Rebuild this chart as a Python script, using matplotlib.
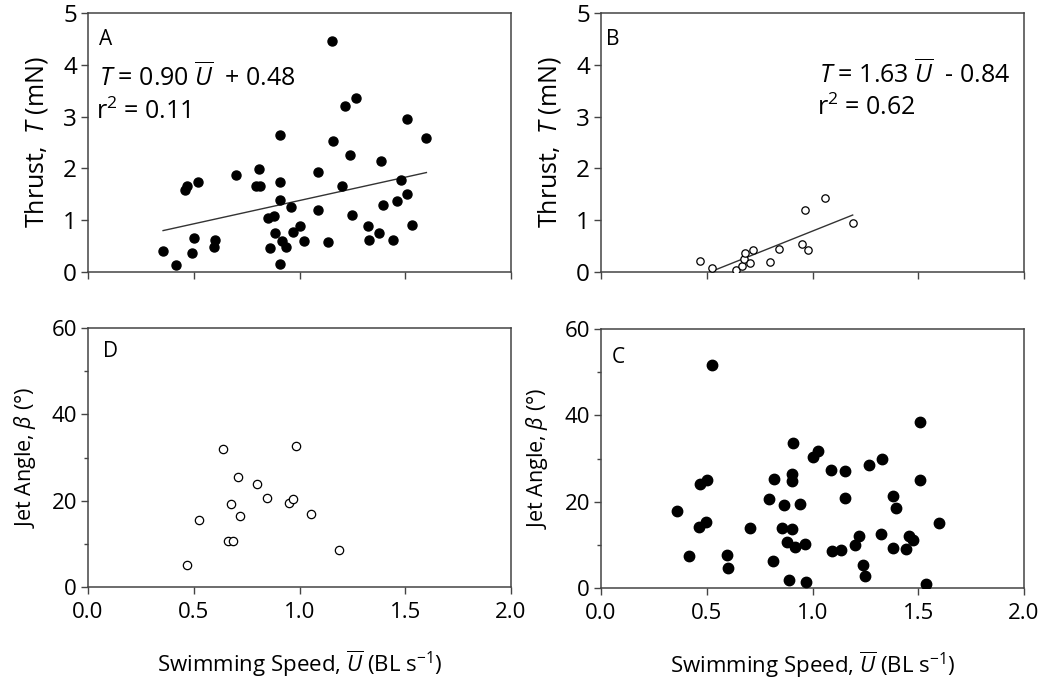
import matplotlib
matplotlib.use('Agg')
import matplotlib.pyplot as plt
import numpy as np

plt.rcParams['font.family'] = ['Open Sans', 'DejaVu Sans']
plt.rcParams['mathtext.fontset'] = 'custom'
plt.rcParams['mathtext.rm'] = 'Open Sans'
plt.rcParams['mathtext.it'] = 'Open Sans:italic'
plt.rcParams['mathtext.bf'] = 'Open Sans:bold'

# panel A: thrust vs speed (filled)
a_speed = [0.355, 0.415, 0.46, 0.468, 0.492, 0.50, 0.52, 0.595, 0.60, 0.70,
           0.793, 0.81, 0.815, 0.852, 0.86, 0.88, 0.883, 0.907, 0.907, 0.907,
           0.91, 0.918, 0.938, 0.962, 0.967, 1.00, 1.02, 1.088, 1.088, 1.136,
           1.155, 1.16, 1.20, 1.216, 1.24, 1.25, 1.268, 1.323, 1.328, 1.377,
           1.383, 1.396, 1.44, 1.459, 1.478, 1.51, 1.51, 1.53, 1.60]
a_thrust = [0.40, 0.13, 1.59, 1.66, 0.37, 0.66, 1.74, 0.48, 0.61, 1.87,
            1.66, 1.98, 1.66, 1.05, 0.47, 1.08, 0.75, 2.65, 1.74, 1.39,
            0.15, 0.59, 0.48, 1.25, 0.77, 0.88, 0.60, 1.94, 1.20, 0.58,
            4.45, 2.52, 1.66, 3.21, 2.25, 1.10, 3.36, 0.88, 0.62, 0.75,
            2.15, 1.29, 0.62, 1.38, 1.77, 2.95, 1.50, 0.90, 2.59]
a_fit = (0.90, 0.48)

# panel B: thrust vs speed (open)
b_speed = [0.468, 0.524, 0.64, 0.666, 0.677, 0.683, 0.705, 0.718, 0.797,
           0.842, 0.951, 0.965, 0.98, 1.057, 1.19]
b_thrust = [0.21, 0.07, 0.045, 0.12, 0.26, 0.36, 0.17, 0.43, 0.19,
            0.45, 0.55, 1.20, 0.42, 1.42, 0.955]
b_fit = (1.63, -0.84)

# panel D: jet angle vs speed (open)
d_speed = [0.469, 0.526, 0.638, 0.66, 0.684, 0.675, 0.708, 0.717, 0.80,
           0.845, 0.951, 0.97, 0.983, 1.055, 1.188]
d_angle = [5.1, 15.6, 31.9, 10.7, 10.7, 19.2, 25.5, 16.5, 23.9,
           20.7, 19.5, 20.3, 32.6, 16.8, 8.5]

# panel C: jet angle vs speed (filled)
c_speed = [0.358, 0.416, 0.462, 0.47, 0.497, 0.503, 0.524, 0.595, 0.60, 0.705,
           0.795, 0.814, 0.819, 0.855, 0.864, 0.879, 0.888, 0.905, 0.905, 0.905,
           0.91, 0.915, 0.942, 0.965, 0.97, 1.00, 1.024, 1.088, 1.091, 1.134,
           1.156, 1.153, 1.20, 1.22, 1.238, 1.248, 1.267, 1.322, 1.33, 1.38,
           1.38, 1.393, 1.44, 1.457, 1.475, 1.506, 1.506, 1.536, 1.598]
c_angle = [17.8, 7.3, 14.2, 24.2, 15.3, 25.1, 51.7, 7.7, 4.6, 14.0,
           20.6, 6.2, 25.3, 14.0, 19.2, 10.7, 1.9, 26.3, 24.9, 13.7,
           33.6, 9.5, 19.5, 10.3, 1.5, 30.3, 31.8, 27.3, 8.6, 8.9,
           27.0, 20.8, 9.9, 12.1, 5.3, 2.8, 28.6, 12.6, 29.8, 21.2,
           9.3, 18.5, 9.0, 12.0, 11.2, 38.5, 25.1, 0.9, 15.1]

x_ticks = [0.0, 0.5, 1.0, 1.5, 2.0]
spine_col = '#444444'

W, H = 1048, 684
fig = plt.figure(figsize=(W / 100, H / 100), dpi=100)


def box(l, t, r, b):
    return [l / W, 1 - b / H, (r - l) / W, (b - t) / H]


axA = fig.add_axes(box(88, 13, 511, 272))
axB = fig.add_axes(box(601, 13, 1024, 272))
axD = fig.add_axes(box(88, 328, 511, 587))
axC = fig.add_axes(box(601, 329, 1024, 588))

xlab = r'Swimming Speed, $\overline{U}$ (BL s$^{-1}$)'

for ax in (axA, axB, axC, axD):
    ax.set_xlim(0, 2.0)
    ax.set_xticks(x_ticks)
    for s in ax.spines.values():
        s.set_color(spine_col)
        s.set_linewidth(1.1)
    ax.tick_params(direction='out', length=5, width=1.0, color=spine_col, pad=3)
    ax.tick_params(which='minor', direction='out', length=3, width=1.0, color=spine_col)

# top row uses a slightly larger type than the bottom row
for ax in (axA, axB):
    ax.set_ylim(0, 5)
    ax.set_yticks([0, 1, 2, 3, 4, 5])
    ax.set_xticklabels([])
    ax.tick_params(labelsize=17.5)
    ax.set_ylabel('Thrust,  $T$ (mN)', fontsize=18, labelpad=9)

for ax in (axC, axD):
    ax.set_ylim(0, 60)
    ax.set_yticks([0, 20, 40, 60])
    ax.set_yticks([10, 30, 50], minor=True)
    ax.set_xticklabels(['0.0', '0.5', '1.0', '1.5', '2.0'])
    ax.tick_params(labelsize=16)
    ax.tick_params(axis='x', pad=6)
    ax.set_ylabel(r'Jet Angle, $\beta$ (°)', fontsize=15.5, labelpad=10)
    ax.set_xlabel(xlab, fontsize=16, labelpad=18)

# A
axA.scatter(a_speed, a_thrust, s=6.5 ** 2, color='black', zorder=3)
xa = np.array([min(a_speed), max(a_speed)])
axA.plot(xa, a_fit[0] * xa + a_fit[1], color='#333333', lw=1.0)
axA.text(0.025, 0.94, 'A', transform=axA.transAxes, fontsize=15, va='top')
axA.text(0.025, 0.81, r'$T$ = 0.90 $\overline{U}$  + 0.48', transform=axA.transAxes,
         fontsize=18, va='top')
axA.text(0.018, 0.67, r'r$^{2}$ = 0.11', transform=axA.transAxes, fontsize=18, va='top')

# B
axB.scatter(b_speed, b_thrust, s=5.3 ** 2, facecolors='white', edgecolors='black',
            linewidths=0.9, zorder=3)
xb = np.array([0.53, max(b_speed)])
axB.plot(xb, b_fit[0] * xb + b_fit[1], color='#333333', lw=1.0)
axB.text(0.012, 0.94, 'B', transform=axB.transAxes, fontsize=15, va='top')
axB.text(0.515, 0.82, r'$T$ = 1.63 $\overline{U}$  - 0.84', transform=axB.transAxes,
         fontsize=18, va='top')
axB.text(0.51, 0.685, r'r$^{2}$ = 0.62', transform=axB.transAxes, fontsize=18, va='top')

# D
axD.scatter(d_speed, d_angle, s=6 ** 2, facecolors='white', edgecolors='black',
            linewidths=0.9, zorder=3)
axD.text(0.035, 0.95, 'D', transform=axD.transAxes, fontsize=15, va='top')

# C
axC.scatter(c_speed, c_angle, s=7.5 ** 2, color='black', zorder=3)
axC.text(0.025, 0.93, 'C', transform=axC.transAxes, fontsize=15, va='top')

fig.savefig('out.png', dpi=100)
